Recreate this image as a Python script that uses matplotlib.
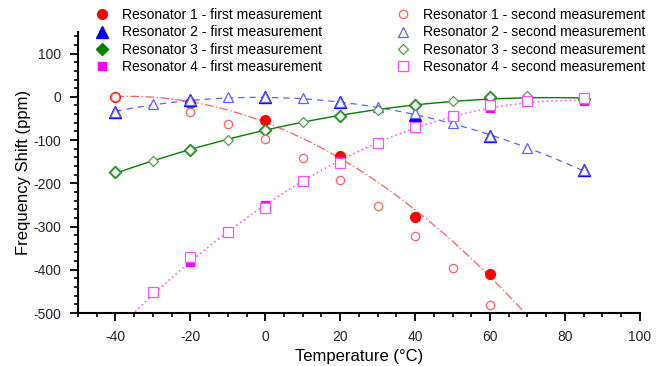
import numpy as np
import matplotlib
matplotlib.use("Agg")
import matplotlib.pyplot as plt
from matplotlib.ticker import MultipleLocator

plt.rcParams['font.family'] = ['Liberation Sans', 'DejaVu Sans']
plt.rcParams['axes.unicode_minus'] = False

# Temperatures
t_first = [-40, -20, 0, 20, 40, 60, 85]
t_second = [-40, -30, -20, -10, 0, 10, 20, 30, 40, 50, 60, 70, 85]

# Resonator 1 (first measurement has no visible 85 point; it is below axis)
r1_t_first = [-40, -20, 0, 20, 40, 60]
r1_first = [0, -14, -53, -136, -277, -409]
r1_t_second = [-40, -20, -10, 0, 10, 20, 30, 40, 50, 60]
r1_second = [0, -34, -62, -97, -142, -193, -253, -321, -397, -481]

# Resonator 2
r2_first = [-35, -7, 0, -12, -42, -90, -170]
r2_second = [-35, -16, -7, 0, 0, -3, -12, -23, -38, -60, -90, -118, -170]

# Resonator 3
r3_first = [-175, -124, -77, -44, -19, -1, -5]
r3_second = [-175, -148, -124, -99, -77, -59, -44, -30, -19, -9, -1, 1, -5]

# Resonator 4 (no -40 point visible)
r4_t_first = [-20, 0, 20, 40, 60, 85]
r4_first = [-381, -250, -148, -72, -25, -9]
r4_t_second = [-30, -20, -10, 0, 10, 20, 30, 40, 50, 60, 70, 85]
r4_second = [-451, -371, -313, -257, -195, -153, -106, -69, -44, -18, -10, -3]

labels_first = ["Resonator 1 - first measurement", "Resonator 2 - first measurement",
                "Resonator 3 - first measurement", "Resonator 4 - first measurement"]
labels_second = ["Resonator 1 - second measurement", "Resonator 2 - second measurement",
                 "Resonator 3 - second measurement", "Resonator 4 - second measurement"]

fig = plt.figure(figsize=(6.7, 3.66), dpi=100)
ax = fig.add_axes([0.1164, 0.1448, 0.8386, 0.7678])

red, blue, green, mag = '#ff0000', '#0000ff', '#008000', '#ff00ff'
red2, blue2, green2, mag2 = '#ff6060', '#6060ff', '#50a050', '#ff50ff'

# fit lines
tt = np.linspace(-40, 85, 300)
def fitline(t, v, color, ls, lw=0.9):
    p = np.polyfit(t, v, 2)
    ax.plot(tt, np.polyval(p, tt), color=color, ls=ls, lw=lw, zorder=1)

fitline(r1_t_first, r1_first, red2, (0, (7, 2, 1, 2)))
fitline(t_first, r2_first, blue2, (0, (5, 4)))
fitline(t_first, r3_first, green, '-', 1.0)
fitline(r4_t_first, r4_first, mag2, (0, (1, 2)), 1.1)

ms1 = 7
h1 = []
h1.append(ax.plot(r1_t_first, r1_first, 'o', color=red, ms=ms1, ls='none', zorder=2)[0])
h1.append(ax.plot(t_first, r2_first, '^', color=blue, ms=ms1 + 1, ls='none', zorder=2)[0])
h1.append(ax.plot(t_first, r3_first, 'D', color=green, ms=ms1 - 0.5, ls='none', zorder=2)[0])
h1.append(ax.plot(r4_t_first, r4_first, 's', color=mag, ms=ms1 - 1.5, ls='none', zorder=2)[0])

ms2 = 6
h2 = []
h2.append(ax.plot(r1_t_second, r1_second, 'o', mfc='white', mec=red2, mew=0.9, ms=ms2, ls='none', zorder=3)[0])
h2.append(ax.plot(t_second, r2_second, '^', mfc='white', mec=blue2, mew=0.9, ms=ms2 + 1, ls='none', zorder=3)[0])
h2.append(ax.plot(t_second, r3_second, 'D', mfc='white', mec=green2, mew=0.9, ms=ms2 - 0.5, ls='none', zorder=3)[0])
h2.append(ax.plot(r4_t_second, r4_second, 's', mfc='white', mec=mag2, mew=0.9, ms=ms2 + 1, ls='none', zorder=3)[0])

ax.set_xlim(-50, 100)
ax.set_ylim(-500, 150)
ax.xaxis.set_minor_locator(MultipleLocator(5))
ax.yaxis.set_minor_locator(MultipleLocator(20))
ax.set_yticks([-500, -400, -300, -200, -100, 0, 100])
ax.set_xticks([-40, -20, 0, 20, 40, 60, 80, 100])
for s in ['top', 'right']:
    ax.spines[s].set_visible(False)
for s in ['left', 'bottom']:
    ax.spines[s].set_linewidth(1.5)
ax.tick_params(which='major', direction='out', length=6, width=1.3, labelsize=10, colors='black', pad=6)
ax.tick_params(which='minor', direction='out', length=3, width=1.2)
for lab in ax.get_xticklabels() + ax.get_yticklabels():
    lab.set_color('#222233')

ax.set_xlabel('Temperature (°C)', fontsize=12, labelpad=4)
ax.set_ylabel('Frequency Shift (ppm)', fontsize=12, labelpad=2)

leg1 = fig.legend(h1, labels_first, loc='upper left', bbox_to_anchor=(0.127, 1.005),
                  frameon=False, fontsize=10, handletextpad=0.95, labelspacing=0.25,
                  handlelength=1.0, borderpad=0.2)
leg2 = fig.legend(h2, labels_second, loc='upper left', bbox_to_anchor=(0.576, 1.005),
                  frameon=False, fontsize=10, handletextpad=0.95, labelspacing=0.25,
                  handlelength=1.0, borderpad=0.2)

fig.savefig('out.png', dpi=100)
